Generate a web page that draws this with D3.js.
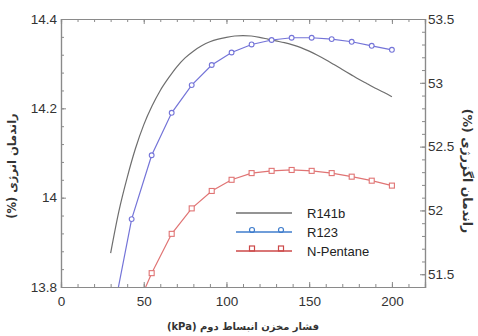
<!DOCTYPE html>
<html><head><meta charset="utf-8">
<script src="https://cdn.jsdelivr.net/npm/d3@7"></script>
<style>body{margin:0;background:#fff}svg{display:block}</style>
</head><body>
<svg id="c" width="478" height="336"></svg>
<script>
// ---- data ----
const r141bX = [30,35,40,45,50,55,60,65,70,75,80,85,90,95,100,105,110,115,120,125,130,135,140,145,150,155,160,165,170,175,180,185,190,195,200];
const r141bY = [13.876,13.970,14.045,14.110,14.163,14.205,14.240,14.268,14.293,14.313,14.328,14.340,14.349,14.355,14.359,14.362,14.363,14.362,14.359,14.355,14.351,14.347,14.342,14.336,14.328,14.319,14.309,14.298,14.287,14.276,14.265,14.255,14.245,14.236,14.226];
const markerX = [30,42.7,54.8,66.9,79,91.1,103.1,115.2,127.3,139.4,151.5,163.6,175.7,187.8,200];
const r123Y = [13.71,13.952,14.095,14.190,14.252,14.297,14.325,14.343,14.353,14.358,14.358,14.355,14.349,14.340,14.331];
const pentaneY = [13.55,13.727,13.831,13.919,13.976,14.015,14.040,14.055,14.060,14.062,14.060,14.055,14.047,14.038,14.027];
const seriesNames = ["R141b","R123","N-Pentane"];
const xTickValues = [0,50,100,150,200];
const xTickLabels = ["0","50","100","150","200"];
const leftTickValues = [13.8,14,14.2,14.4];
const leftTickLabels = ["13.8","14","14.2","14.4"];
const rightTickValues = [51.5,52,52.5,53,53.5];
const rightTickLabels = ["51.5","52","52.5","53","53.5"];
const xTitle = "فشار مخزن انبساط دوم (kPa)";
const leftTitle = "راندمان انرژی (%)";
const rightTitle = "راندمان اگزرژی (%)";

// ---- layout ----
const L = 61, R = 425, T = 19, B = 287;
const svg = d3.select("#c");
const x = d3.scaleLinear().domain([0,220]).range([L,R]);
const y = d3.scaleLinear().domain([13.8,14.4]).range([B,T]);
const y2 = d3.scaleLinear().domain([51.4,53.5]).range([B,T]);

const axisColor = "#8a8a8a", textColor = "#333";
const tickFont = "Liberation Sans, Arial, sans-serif";

// clip
svg.append("defs").append("clipPath").attr("id","clip")
  .append("rect").attr("x",L).attr("y",T).attr("width",R-L).attr("height",B-T);

// axes (inward ticks)
const minorX = d3.range(0,221,10);
svg.append("g").attr("transform",`translate(0,${B})`)
  .call(d3.axisBottom(x).tickValues(minorX).tickSize(-3).tickFormat(""));
svg.append("g").attr("transform",`translate(0,${B})`)
  .call(d3.axisBottom(x).tickValues(xTickValues).tickSize(-5).tickPadding(9)
    .tickFormat((d,i)=>xTickLabels[i]));
svg.append("g").attr("transform",`translate(0,${T})`)
  .call(d3.axisTop(x).tickValues(minorX).tickSize(-3).tickFormat(""));
svg.append("g").attr("transform",`translate(0,${T})`)
  .call(d3.axisTop(x).tickValues(xTickValues).tickSize(-5).tickFormat(""));
const minorL = d3.range(0,16).map(i=>+(13.8+i*0.04).toFixed(2));
svg.append("g").attr("transform",`translate(${L},0)`)
  .call(d3.axisLeft(y).tickValues(minorL).tickSize(-3).tickFormat(""));
svg.append("g").attr("transform",`translate(${L},0)`)
  .call(d3.axisLeft(y).tickValues(leftTickValues).tickSize(-5).tickPadding(4)
    .tickFormat((d,i)=>leftTickLabels[i]));
const minorR = d3.range(0,22).map(i=>+(51.4+i*0.1).toFixed(1));
svg.append("g").attr("transform",`translate(${R},0)`)
  .call(d3.axisRight(y2).tickValues(minorR).tickSize(-3).tickFormat(""));
svg.append("g").attr("transform",`translate(${R},0)`)
  .call(d3.axisRight(y2).tickValues(rightTickValues).tickSize(-5).tickPadding(3)
    .tickFormat((d,i)=>rightTickLabels[i]));

svg.selectAll(".domain").attr("stroke",axisColor).attr("stroke-width",1.2);
svg.selectAll(".tick line").attr("stroke",axisColor);
svg.selectAll(".tick text").attr("fill",textColor).attr("font-family",tickFont).attr("font-size",13.5);

// lines
const g = svg.append("g").attr("clip-path","url(#clip)");
const grayLine = d3.line().x(d=>x(d[0])).y(d=>y(d[1])).curve(d3.curveMonotoneX);
g.append("path").datum(r141bX.map((v,i)=>[v,r141bY[i]]))
  .attr("d",grayLine).attr("fill","none").attr("stroke","#6e6e6e").attr("stroke-width",1.2);

const blueCol = "#7474d8", redCol = "#e07474";
const lin = d3.line().x(d=>x(d[0])).y(d=>y(d[1]));
const blueData = markerX.map((v,i)=>[v,r123Y[i]]);
const redData = markerX.map((v,i)=>[v,pentaneY[i]]);
g.append("path").datum(blueData).attr("d",lin).attr("fill","none").attr("stroke",blueCol).attr("stroke-width",1.2);
g.append("path").datum(redData).attr("d",lin).attr("fill","none").attr("stroke",redCol).attr("stroke-width",1.2);
g.selectAll(".bm").data(blueData).enter().append("circle")
  .attr("cx",d=>x(d[0])).attr("cy",d=>y(d[1])).attr("r",2.4)
  .attr("fill","#fff").attr("stroke",blueCol).attr("stroke-width",1.1);
g.selectAll(".rm").data(redData).enter().append("rect")
  .attr("x",d=>x(d[0])-2.5).attr("y",d=>y(d[1])-2.5).attr("width",5).attr("height",5)
  .attr("fill","#fff").attr("stroke",redCol).attr("stroke-width",1.1);

// legend
const legY = [213, 232, 251];
const legCols = ["#707070","#3f7dcc","#cc4848"];
const lg = svg.append("g");
seriesNames.forEach((name,i)=>{
  if(i===1){[252,281].forEach(cx=>lg.append("circle").attr("cx",cx).attr("cy",legY[i]-2).attr("r",2.5)
      .attr("fill","#fff").attr("stroke",legCols[i]).attr("stroke-width",1.2));}
  if(i===2){[252,281].forEach(cx=>lg.append("rect").attr("x",cx-2.5).attr("y",legY[i]-5).attr("width",5).attr("height",5)
      .attr("fill","#fff").attr("stroke",legCols[i]).attr("stroke-width",1.2));}
  lg.append("line").attr("x1",236).attr("x2",292).attr("y1",legY[i]).attr("y2",legY[i])
    .attr("stroke",legCols[i]).attr("stroke-width",1.4);
  lg.append("text").attr("x",307).attr("y",legY[i]).attr("dy","0.35em")
    .attr("font-family",tickFont).attr("font-size",13).attr("fill","#222").text(name);
});

// titles
const titleFont = "DejaVu Sans, sans-serif";
svg.append("text").attr("x",243).attr("y",326).attr("dy","0.35em").attr("text-anchor","middle")
  .style("direction","rtl")
  .attr("font-family",titleFont).attr("font-weight","bold").attr("font-size",10).attr("fill","#333").text(xTitle);
svg.append("text").attr("transform","translate(12,166) rotate(-90)").attr("dy","0.35em").attr("text-anchor","middle")
  .style("direction","rtl")
  .attr("font-family",titleFont).attr("font-weight","bold").attr("font-size",11.5).attr("fill","#333").text(leftTitle);
svg.append("text").attr("transform","translate(467,171) rotate(90)").attr("dy","0.35em").attr("text-anchor","middle")
  .style("direction","rtl")
  .attr("font-family",titleFont).attr("font-weight","bold").attr("font-size",12.5).attr("fill","#333").text(rightTitle);
</script>
</body></html>
